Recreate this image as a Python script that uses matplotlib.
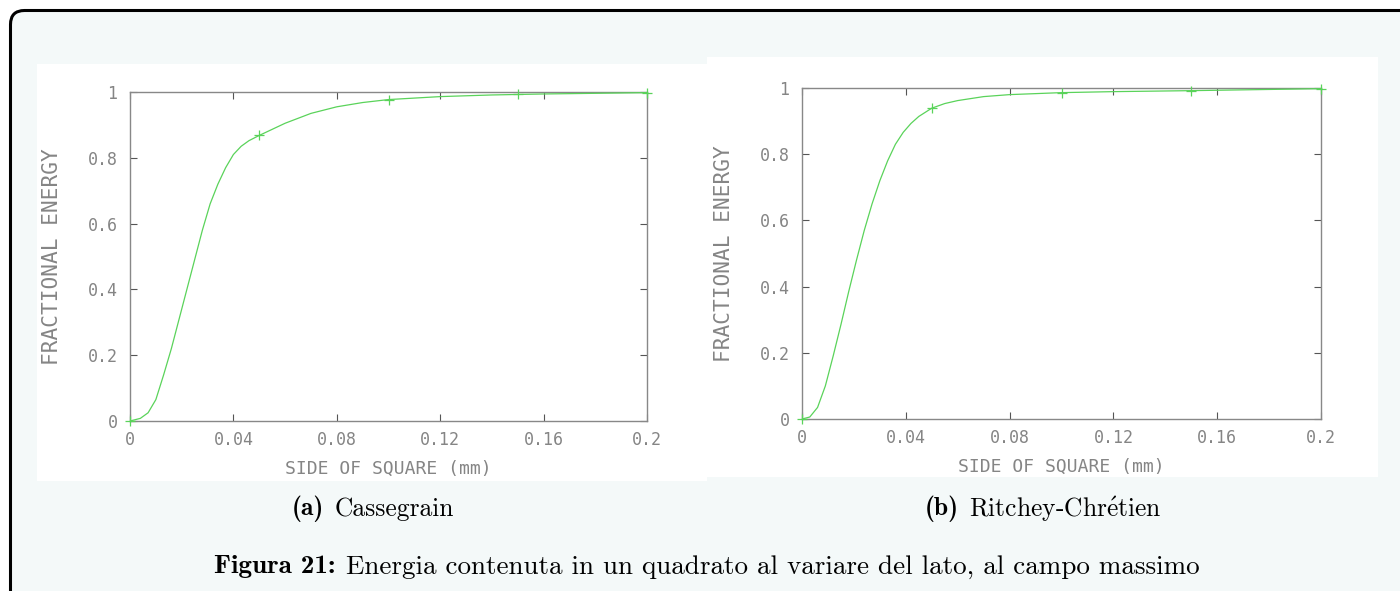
import matplotlib
matplotlib.use('Agg')
import matplotlib.pyplot as plt
from matplotlib.patches import Rectangle, FancyBboxPatch

plt.rcParams['mathtext.fontset'] = 'cm'

# curve a: Cassegrain
side_a = [0, 0.004, 0.007, 0.010, 0.013, 0.016, 0.019, 0.022, 0.025, 0.028,
          0.031, 0.034, 0.037, 0.040, 0.043, 0.046, 0.05, 0.06, 0.07, 0.08,
          0.09, 0.1, 0.12, 0.14, 0.16, 0.18, 0.2]
energy_a = [0, 0.008, 0.025, 0.065, 0.14, 0.22, 0.31, 0.40, 0.49, 0.58,
            0.66, 0.72, 0.77, 0.81, 0.835, 0.852, 0.868, 0.905, 0.935, 0.955,
            0.968, 0.977, 0.986, 0.991, 0.994, 0.996, 0.998]

# curve b: Ritchey-Chretien
side_b = [0, 0.003, 0.006, 0.009, 0.012, 0.015, 0.018, 0.021, 0.024, 0.027,
          0.030, 0.033, 0.036, 0.039, 0.042, 0.045, 0.05, 0.055, 0.06, 0.07,
          0.08, 0.1, 0.12, 0.15, 0.2]
energy_b = [0, 0.006, 0.035, 0.10, 0.19, 0.285, 0.385, 0.48, 0.57, 0.65,
            0.72, 0.78, 0.83, 0.866, 0.893, 0.914, 0.939, 0.953, 0.962, 0.974,
            0.980, 0.986, 0.989, 0.992, 0.998]

# sampled points with '+' markers
mark_x = [0, 0.05, 0.1, 0.15, 0.2]
mark_a = [0, 0.868, 0.977, 0.993, 0.998]
mark_b = [0, 0.939, 0.986, 0.992, 0.998]

xticks = [0, 0.04, 0.08, 0.12, 0.16, 0.2]
xticklabels = ['0', '0.04', '0.08', '0.12', '0.16', '0.2']
yticks = [0, 0.2, 0.4, 0.6, 0.8, 1]
yticklabels = ['0', '0.2', '0.4', '0.6', '0.8', '1']

W, H = 1400, 591
GREEN = '#5ad35a'
GREY = '#858585'
BG = '#f4f9f9'

fig = plt.figure(figsize=(W / 100, H / 100), dpi=100, facecolor='white')

# outer rounded box
box = FancyBboxPatch((10.5, -30), 1430, H - 10.5 + 30,
                     boxstyle='round,pad=0,rounding_size=14',
                     facecolor=BG, edgecolor='black', linewidth=2.2,
                     transform=None, zorder=-3)
fig.add_artist(box)

def px_rect(x0, y0, x1, y1):
    # pixel box measured from the top-left corner
    return Rectangle((x0 / W, 1 - y1 / H), (x1 - x0) / W, (y1 - y0) / H,
                     transform=fig.transFigure, facecolor='white',
                     edgecolor='none', zorder=-2)

fig.add_artist(px_rect(37, 64, 707, 481))
fig.add_artist(px_rect(707, 57, 1378, 477))

def make_axes(x0, y0, x1, y1):
    return fig.add_axes([x0 / W, 1 - y1 / H, (x1 - x0) / W, (y1 - y0) / H])

tick_font = dict(family='DejaVu Sans Mono', size=12, color=GREY)
xlab_font = dict(family='DejaVu Sans Mono', size=13, color=GREY)
ylab_font = dict(family='DejaVu Sans Mono', size=15.2, color=GREY)

def style(ax, sx, ex, mx, my, ylab_x, xlab_y):
    ax.set_facecolor('white')
    ax.plot(sx, ex, color=GREEN, lw=0.9, zorder=3)
    ax.plot(mx, my, ls='none', marker='+', ms=7, mew=0.9, color=GREEN,
            clip_on=False, zorder=4)
    ax.set_xlim(0, 0.2)
    ax.set_ylim(0, 1)
    ax.set_xticks(xticks)
    ax.set_xticklabels(xticklabels, **tick_font)
    ax.set_yticks(yticks)
    ax.set_yticklabels(yticklabels, **tick_font)
    ax.tick_params(direction='in', length=5, width=0.8, color='#555555',
                   top=True, right=True)
    ax.tick_params(axis='x', pad=7)
    ax.tick_params(axis='y', pad=9)
    for s in ax.spines.values():
        s.set_color('#888888')
        s.set_linewidth(1.0)
    ax.set_xlabel('SIDE OF SQUARE (mm)', **xlab_font)
    ax.set_ylabel('FRACTIONAL ENERGY', **ylab_font)
    ax.xaxis.set_label_coords(0.5, xlab_y)
    ax.yaxis.set_label_coords(ylab_x, 0.5)

ax1 = make_axes(130, 92, 647, 421)
style(ax1, side_a, energy_a, mark_x, mark_a, -0.1315, -0.1185)
ax2 = make_axes(802, 88, 1321, 419)
style(ax2, side_b, energy_b, mark_x, mark_b, -0.131, -0.118)

# captions, bold part then regular part
rend = fig.canvas.get_renderer()
bold = dict(family=['cmb10', 'DejaVu Serif'], color='black')
reg = dict(family=['cmr10', 'DejaVu Serif'], color='black')

def caption(cx, cy, head, rest, size):
    t1 = fig.text(0, 1 - cy / H, head, fontsize=size, va='center', **bold)
    t2 = fig.text(0, 1 - cy / H, rest, fontsize=size, va='center', **reg)
    w1 = t1.get_window_extent(rend).width
    w2 = t2.get_window_extent(rend).width
    gap = size * 0.55
    left = cx - (w1 + gap + w2) / 2
    t1.set_x(left / W)
    t2.set_x((left + w1 + gap) / W)

caption(373, 509, '(a)', 'Cassegrain', 18.4)
caption(1043, 509, '(b)', r'Ritchey-Chr$\acute{\mathrm{e}}$tien', 18.4)
caption(707, 567, 'Figura 21:', 'Energia contenuta in un quadrato al variare del lato, al campo massimo', 19.5)

fig.savefig('out.png', dpi=100, facecolor='white')
